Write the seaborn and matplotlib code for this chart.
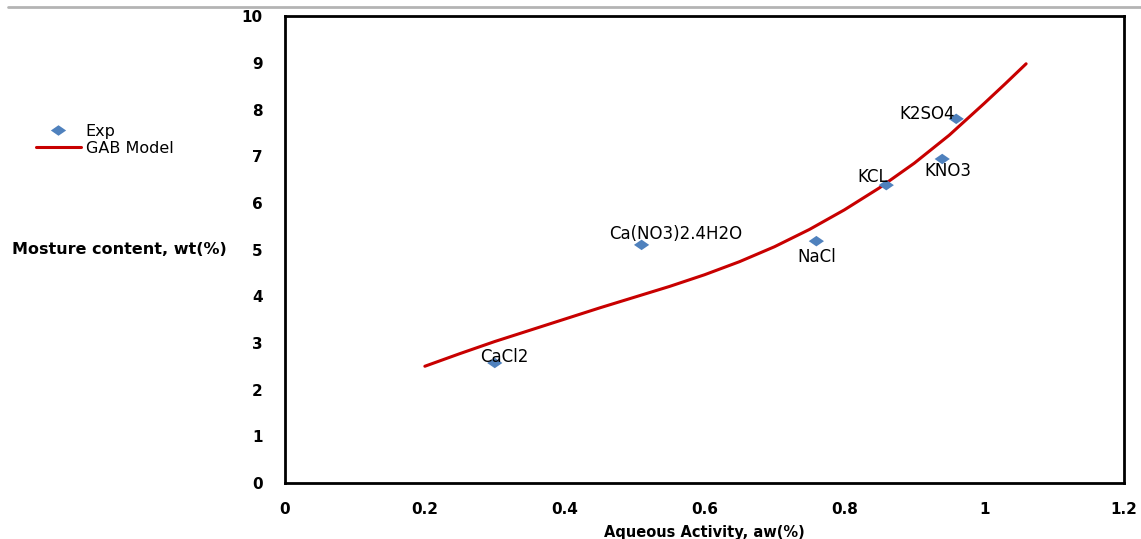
import matplotlib
matplotlib.use("Agg")
import matplotlib.pyplot as plt
from matplotlib.lines import Line2D
import seaborn as sns
import pandas as pd

# Experimental sorption points (salt solutions)
salts = ["CaCl2", "Ca(NO3)2.4H2O", "NaCl", "KCL", "KNO3", "K2SO4"]
aw_exp = [0.30, 0.51, 0.76, 0.86, 0.94, 0.96]
moisture_exp = [2.57, 5.10, 5.18, 6.38, 6.94, 7.80]

# GAB model curve
aw_model = [0.20, 0.25, 0.30, 0.35, 0.40, 0.45, 0.50, 0.55, 0.60, 0.65,
            0.70, 0.75, 0.80, 0.85, 0.90, 0.95, 1.00, 1.03, 1.06]
moisture_model = [2.50, 2.77, 3.03, 3.27, 3.51, 3.75, 3.98, 4.21, 4.46, 4.74,
                  5.06, 5.43, 5.85, 6.32, 6.85, 7.45, 8.13, 8.55, 8.98]

x_ticks = [0, 0.2, 0.4, 0.6, 0.8, 1, 1.2]
x_tick_labels = ["0", "0.2", "0.4", "0.6", "0.8", "1", "1.2"]
y_ticks = list(range(0, 11))

# label offsets in pixels relative to each point
label_offsets = [(10, 6), (34, 11), (0, -16), (-14, 8), (6, -12), (-29, 5)]

sns.set_theme(style="white")
plt.rcParams["font.family"] = ["DejaVu Sans"]
plt.rcParams["text.color"] = "black"
plt.rcParams["axes.labelcolor"] = "black"

exp_df = pd.DataFrame({"aw": aw_exp, "m": moisture_exp, "salt": salts})
model_df = pd.DataFrame({"aw": aw_model, "m": moisture_model})

fig = plt.figure(figsize=(11.41, 5.39), dpi=100)
ax = fig.add_axes([0.2498, 0.104, 0.9851 - 0.2498, 0.970 - 0.104])

diamond = [(-1.45, 0), (0, 1), (1.45, 0), (0, -1), (-1.45, 0)]
blue = "#4F81BD"
red = "#C80000"

sns.lineplot(data=model_df, x="aw", y="m", ax=ax, color=red, linewidth=2.2,
             sort=False, legend=False)
sns.scatterplot(data=exp_df, x="aw", y="m", ax=ax, marker=diamond, s=120,
                color=blue, edgecolor="none", linewidth=0, legend=False, zorder=3)

for name, x, y, (dx, dy) in zip(salts, aw_exp, moisture_exp, label_offsets):
    ax.annotate(name, (x, y), xytext=(dx, dy), textcoords="offset pixels",
                ha="center", va="center", fontsize=12, color="black", zorder=4)

ax.set_xlim(0, 1.2)
ax.set_ylim(0, 10)
ax.set_xticks(x_ticks)
ax.set_xticklabels(x_tick_labels)
ax.set_yticks(y_ticks)

for side in ["left", "right", "top", "bottom"]:
    ax.spines[side].set_visible(True)
    ax.spines[side].set_color("black")
    ax.spines[side].set_linewidth(2.0)

ax.tick_params(axis="both", which="major", direction="out", length=5,
               width=1, color="#808080", labelsize=11, labelcolor="black")
ax.tick_params(axis="y", pad=11)
ax.tick_params(axis="x", pad=9)
for lbl in ax.get_xticklabels() + ax.get_yticklabels():
    lbl.set_fontweight("bold")

ax.set_xlabel("")
ax.set_ylabel("")
fig.text(0.5 * (0.2498 + 0.9851), 1 - 532 / 539, "Aqueous Activity, aw(%)",
         fontsize=10.5, fontweight="bold", ha="center", va="center")
fig.text(12 / 1141, 1 - 250 / 539, "Mosture content, wt(%)", fontsize=11.5,
         fontweight="bold", ha="left", va="center")

handles = [
    Line2D([], [], marker=diamond, linestyle="none", color=blue, markersize=11,
           markeredgewidth=0),
    Line2D([], [], color=red, linewidth=2.2),
]
fig.legend(handles, ["Exp", "GAB Model"], loc="upper left",
           bbox_to_anchor=(36 / 1141, 1 - 124 / 539), frameon=False,
           fontsize=11.5, handlelength=2.8, handletextpad=0.3,
           labelspacing=0.1, borderpad=0, borderaxespad=0)

# thin gray rule across the top of the figure
fig.add_artist(Line2D([8 / 1141, 1.0], [1 - 7 / 539, 1 - 7 / 539],
                      transform=fig.transFigure, color="#b4b4b4", linewidth=2))

fig.savefig("out.png", dpi=100)
